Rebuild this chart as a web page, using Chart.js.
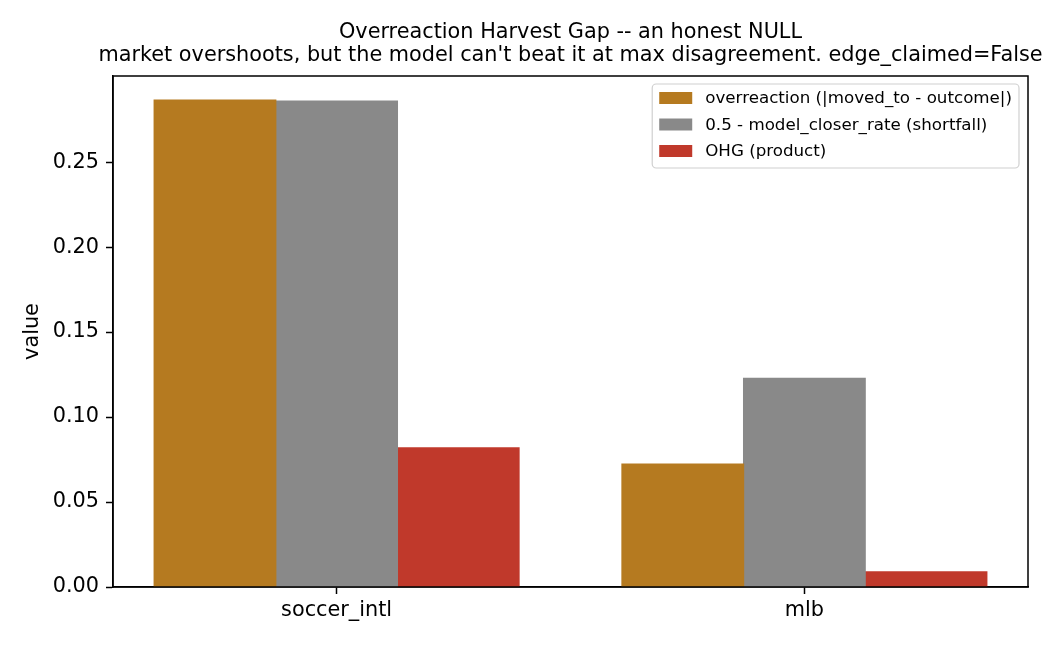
<!DOCTYPE html>
<html>
<head>
<meta charset="utf-8">
<script src="https://cdn.jsdelivr.net/npm/chart.js@4.4.1/dist/chart.umd.min.js"></script>
<style>
  html, body { margin: 0; padding: 0; background: #fff; }
  #wrap { width: 1050px; height: 645px; }
</style>
</head>
<body>
<div id="wrap"><canvas id="chart"></canvas></div>
<script>
const categories = ["soccer_intl", "mlb"];
const overreaction = [0.2865, 0.0723];
const shortfall = [0.2860, 0.1228];
const ohg = [0.0819, 0.0089];
const yTicks = [0.00, 0.05, 0.10, 0.15, 0.20, 0.25];
const seriesLabels = [
  "overreaction (|moved_to - outcome|)",
  "0.5 - model_closer_rate (shortfall)",
  "OHG (product)",
];
const seriesColors = ["#b57a20", "#898989", "#c0392b"];
const titleLines = [
  "Overreaction Harvest Gap -- an honest NULL",
  "market overshoots, but the model can't beat it at max disagreement. edge_claimed=False",
];

const FONT = "'DejaVu Sans', sans-serif";

// title, y label, full frame and the boxed legend
const decorations = {
  id: "decorations",
  afterDraw(chart) {
    const { ctx, chartArea: a } = chart;
    ctx.save();

    ctx.strokeStyle = "#000";
    ctx.lineWidth = 1.5;
    ctx.strokeRect(a.left, a.top, a.right - a.left, a.bottom - a.top);

    ctx.fillStyle = "#000";
    ctx.textAlign = "center";
    ctx.textBaseline = "middle";
    ctx.font = "20.8px " + FONT;
    const cx = (a.left + a.right) / 2;
    ctx.fillText(titleLines[0], cx, 33);
    ctx.fillText(titleLines[1], cx, 56);

    ctx.save();
    ctx.translate(33, (a.top + a.bottom) / 2);
    ctx.rotate(-Math.PI / 2);
    ctx.fillText("value", 0, 0);
    ctx.restore();

    // legend
    ctx.font = "16.7px " + FONT;
    let maxW = 0;
    seriesLabels.forEach(l => { maxW = Math.max(maxW, ctx.measureText(l).width); });
    const boxW = 7 + 33 + 13 + maxW + 7;
    const boxR = a.right - 9;
    const boxL = boxR - boxW;
    const boxT = a.top + 8;
    const boxH = 84;
    ctx.beginPath();
    ctx.roundRect(boxL, boxT, boxW, boxH, 4);
    ctx.fillStyle = "rgba(255,255,255,0.8)";
    ctx.fill();
    ctx.strokeStyle = "#d0d0d0";
    ctx.lineWidth = 1.2;
    ctx.stroke();

    ctx.textAlign = "left";
    seriesLabels.forEach((l, i) => {
      const y = boxT + 14 + i * 26.5;
      ctx.fillStyle = seriesColors[i];
      ctx.fillRect(boxL + 7, y - 6, 33, 12);
      ctx.fillStyle = "#000";
      ctx.fillText(l, boxL + 7 + 33 + 13, y + 1);
    });

    ctx.restore();
  },
};

const datasets = [overreaction, shortfall, ohg].map((d, i) => ({
  label: seriesLabels[i],
  data: d.map((v, j) => ({ x: j, y: v })),
  backgroundColor: seriesColors[i],
  borderWidth: 0,
  inflateAmount: 0.6,
  barPercentage: 1.0,
  categoryPercentage: 0.78,
}));

new Chart(document.getElementById("chart"), {
  type: "bar",
  data: { datasets: datasets },
  plugins: [decorations],
  options: {
    responsive: true,
    maintainAspectRatio: false,
    animation: false,
    layout: { padding: { left: 0, right: 22, top: 76, bottom: 0 } },
    plugins: {
      legend: { display: false },
      title: { display: false },
      tooltip: { enabled: false },
    },
    scales: {
      x: {
        type: "linear",
        min: -0.478,
        max: 1.478,
        offset: false,
        grid: {
          offset: false,
          drawOnChartArea: false,
          drawTicks: true,
          tickLength: 7,
          tickWidth: 1.5,
          tickColor: "#000",
        },
        border: { color: "#000", width: 1.5 },
        ticks: {
          color: "#000",
          font: { family: FONT, size: 20.8 },
          padding: 4,
          maxRotation: 0,
          callback: v => categories[v],
        },
        afterBuildTicks(scale) { scale.ticks = categories.map((c, i) => ({ value: i })); },
        afterFit(scale) { scale.height = 58; },
      },
      y: {
        min: 0,
        max: 0.3007,
        grid: {
          drawOnChartArea: false,
          drawTicks: true,
          tickLength: 7,
          tickWidth: 1.5,
          tickColor: "#000",
        },
        border: { color: "#000", width: 1.5 },
        ticks: {
          color: "#000",
          font: { family: FONT, size: 20.8 },
          padding: 7,
          callback: v => Number(v).toFixed(2),
        },
        afterBuildTicks(scale) { scale.ticks = yTicks.map(v => ({ value: v })); },
        afterFit(scale) { scale.width = 113; },
      },
    },
  },
});
</script>
</body>
</html>
